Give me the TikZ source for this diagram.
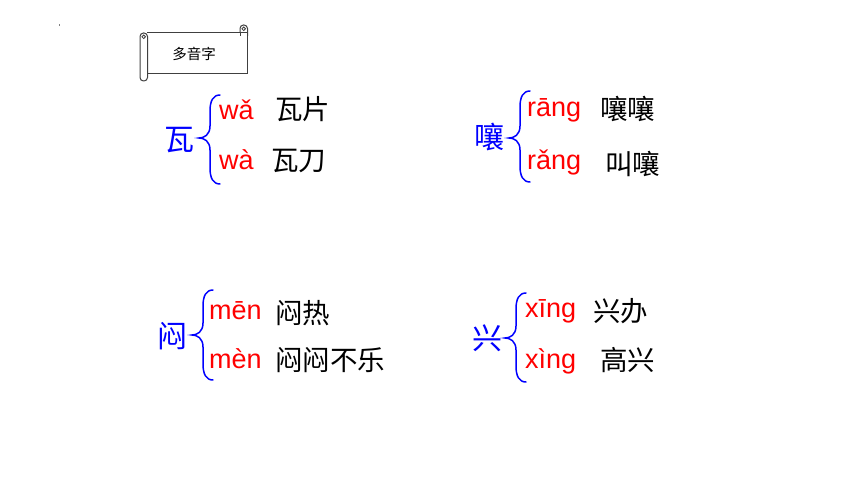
\documentclass[tikz,border=0pt]{standalone}
\usepackage{fontspec}
\setmainfont{Liberation Sans}
\newfontfamily\cjk{Noto Sans CJK SC}
\definecolor{pyred}{RGB}{255,0,0}
\definecolor{hzblue}{RGB}{0,0,255}
\tikzset{
  headchar/.style={font=\cjk\fontsize{30}{31}\selectfont, text=hzblue, inner sep=0pt, anchor=center},
  pinyin/.style={font=\fontsize{27}{28}\selectfont, text=pyred, inner sep=0pt, anchor=base west},
  word/.style={font=\cjk\fontsize{27.5}{29}\selectfont, text=black, inner sep=0pt, anchor=west},
  bracestyle/.style={draw=hzblue, line width=1.5pt, line cap=round},
  scrollline/.style={draw=black!75, line width=1pt, fill=white}
}
\newcommand\mybrace[4]{%
  \draw[bracestyle] ({#1+21},#3) .. controls ({#1+14},#3) and ({#1+11},{#3+6}) .. ({#1+11},{#3+16})
    -- ({#1+11},{#2-12}) .. controls ({#1+11},{#2-3}) and ({#1+5},#2) .. (#1,#2)
    .. controls ({#1+5},#2) and ({#1+11},{#2+3}) .. ({#1+11},{#2+12})
    -- ({#1+11},{#4-16}) .. controls ({#1+11},{#4-6}) and ({#1+14},#4) .. ({#1+21},#4);
}
\begin{document}
\begin{tikzpicture}[x=1pt,y=-1pt]
\useasboundingbox (0,0) rectangle (860,484);
% tiny speck
\fill[black!50] (58.5,24) rectangle (59.5,26.5);
% scroll
\draw[scrollline, rounded corners=3.5pt] (240,36) -- (240,25) -- (247.5,25) -- (247.5,36);
\draw[scrollline] (147,33) -- (247.5,33) -- (247.5,74) -- (147,74);
\draw[scrollline, rounded corners=3.5pt] (140,33) rectangle (147.5,81);
\draw[black!75, line width=0.8pt] (143.7,36.8) circle (1.8);
\draw[black!75, line width=0.8pt] (243.7,28.8) circle (1.8);
\draw[black!75, line width=1pt] (240,33) -- (240,36);
\node[font=\cjk\fontsize{14.5}{16}\selectfont, inner sep=0pt] (title) at (194,54) {多音字};
% group 1
\node[headchar] (h1) at (179,140) {瓦};
\mybrace{199}{138}{95}{184}
\node[pinyin] (p1a) at (219,120) {wǎ};
\node[pinyin] (p1b) at (219,170) {wà};
\node[word] (w1a) at (275,109) {瓦片};
\node[word] (w1b) at (271,161) {瓦刀};
% group 2
\node[headchar] (h2) at (489,137) {嚷};
\mybrace{509}{138}{91}{182}
\node[pinyin] (p2a) at (527,117) {rāng};
\node[pinyin] (p2b) at (527,170) {rǎng};
\node[word] (w2a) at (600,109) {嚷嚷};
\node[word] (w2b) at (605,164) {叫嚷};
% group 3
\node[headchar] (h3) at (172,336) {闷};
\mybrace{192}{335}{290}{380}
\node[pinyin] (p3a) at (209,319) {mēn};
\node[pinyin] (p3b) at (209,368) {mèn};
\node[word] (w3a) at (275,313) {闷热};
\node[word] (w3b) at (275,360) {闷闷不乐};
% group 4
\node[headchar] (h4) at (487,338) {兴};
\mybrace{505}{338}{293}{382}
\node[pinyin] (p4a) at (525,317) {xīng};
\node[pinyin] (p4b) at (525,368) {xìng};
\node[word] (w4a) at (593,311) {兴办};
\node[word] (w4b) at (600,360) {高兴};
\end{tikzpicture}
\end{document}
